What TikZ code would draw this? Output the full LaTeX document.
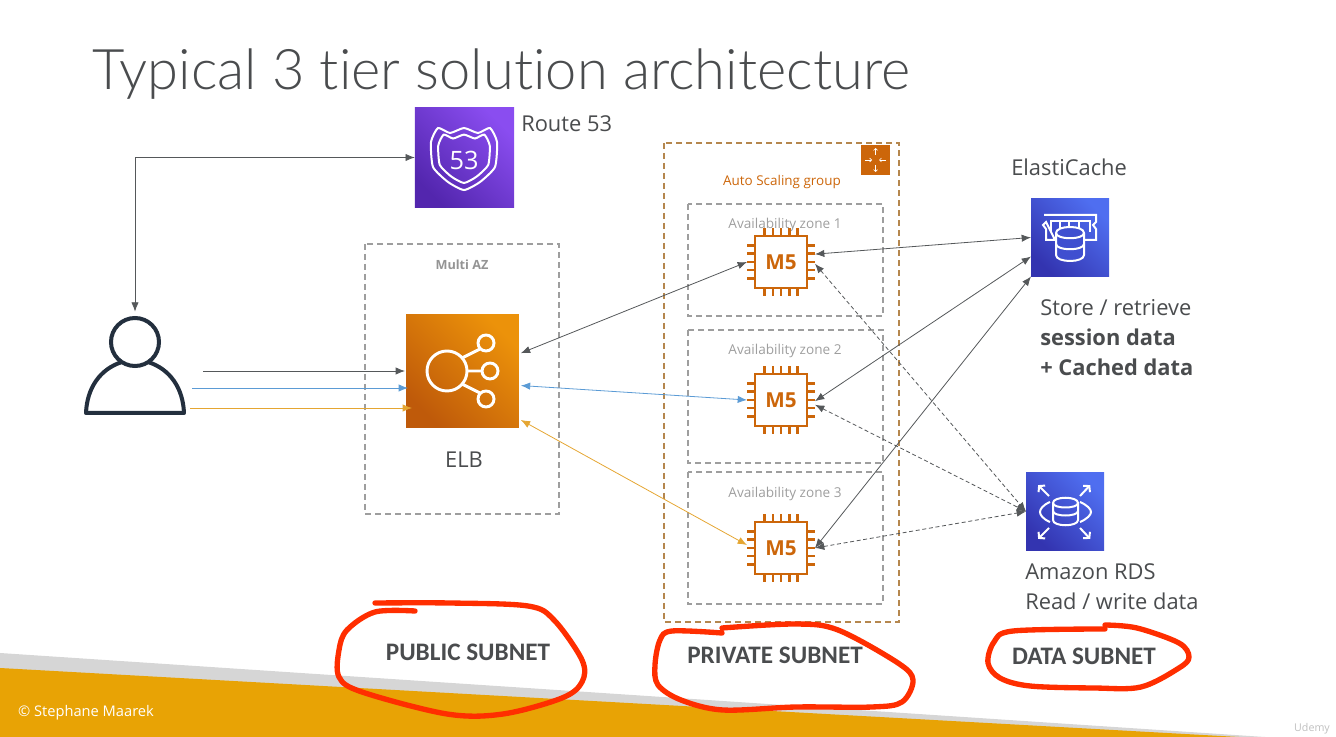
\documentclass[tikz,border=0pt]{standalone}
\usepackage{fontspec}
\setmainfont{Open Sans}
\newfontfamily\titlefont[Ligatures=NoCommon]{Lato Light}
\newfontfamily\capfont{Carlito}
\usepackage{xcolor}
\usetikzlibrary{shapes,arrows.meta,calc}
\definecolor{inktext}{HTML}{4A4C4E}
\definecolor{inkline}{HTML}{55585A}
\definecolor{inkuser}{HTML}{232F3E}
\definecolor{awsorange}{HTML}{CC660A}
\definecolor{awsamber}{HTML}{EC920A}
\definecolor{awsdeep}{HTML}{BF5A0A}
\definecolor{scaledash}{HTML}{B5874E}
\definecolor{linkblue}{HTML}{5B9BD5}
\definecolor{linkyellow}{HTML}{E5A632}
\definecolor{markerred}{HTML}{FF2E00}
\definecolor{footgold}{HTML}{E8A305}
\definecolor{footgrey}{HTML}{D6D6D6}
\definecolor{purplelow}{HTML}{5326AE}
\definecolor{purplehigh}{HTML}{8A4DF0}
\definecolor{bluelow}{HTML}{3334B0}
\definecolor{bluehigh}{HTML}{4F6EF0}
\definecolor{bluemid}{HTML}{3F4FD0}
\tikzstyle{service} = [rectangle, inner sep=0pt, outer sep=0pt]
\tikzstyle{purplebox} = [service, bottom color=purplelow, top color=purplehigh, shading angle=-45, minimum size=74.5pt]
\tikzstyle{bluebox} = [service, bottom color=bluelow, top color=bluehigh, shading angle=-45, minimum size=58.5pt]
\tikzstyle{orangebox} = [service, bottom color=awsdeep, top color=awsamber, shading angle=-45, minimum size=84.5pt, outer sep=1.5pt]
\tikzstyle{chipbody} = [rectangle, draw=awsorange, line width=2.2pt, fill=white, minimum size=39pt, inner sep=0pt, outer sep=6pt, text=awsorange, font=\fontsize{15.5}{20}\selectfont\bfseries]
\tikzstyle{chippin} = [draw=awsorange, line width=1.8pt]
\tikzstyle{zonebox} = [draw=black!38, line width=0.9pt, dash pattern=on 4.5pt off 3pt]
\tikzstyle{scalebox} = [draw=scaledash, line width=1pt, dash pattern=on 4.5pt off 3pt]
\tikzstyle{zonelabel} = [text=black!38, font=\fontsize{10.2}{12}\selectfont]
\tikzstyle{label} = [text=inktext, font=\fontsize{16.4}{22.5}\selectfont, align=left, inner sep=0pt]
\tikzstyle{subnet} = [text=inktext, font=\capfont\fontsize{18.9}{20}\selectfont\bfseries, inner sep=0pt]
\tikzstyle{pijl} = [draw=inkline, line width=0.6pt, <->]
\tikzstyle{pijlend} = [draw, line width=0.6pt, ->]
\tikzstyle{icon} = [draw=white, line width=1.5pt]
\tikzstyle{scalearrow} = [draw=white, line width=0.5pt, -{Straight Barb[length=1.5pt,width=3pt]}]
\tikzstyle{marker} = [draw=markerred, line width=4pt, line cap=round, line join=round]
\tikzset{>={Latex[length=7pt,width=5.5pt]}}

\begin{document}
\begin{tikzpicture}[x=0.75pt, y=-0.75pt]
	\useasboundingbox (0,0) rectangle (1336,737);
	% footer
	\fill [footgrey] (0,653) -- (1265,737) -- (0,737) -- cycle;
	\fill [footgold] (0,668) -- (1239,737) -- (0,737) -- cycle;
	\node [text=white, font=\fontsize{11}{12}\selectfont] (copyright) at (86,713) {© Stephane Maarek};
	\node [text=black!25, font=\fontsize{8}{10}\selectfont] (udemy) at (1312,729) {Udemy};
	
	\node [text=inktext, font=\titlefont\fontsize{42}{56}\selectfont, anchor=west, inner sep=0pt] (title) at (92,74) {Typical 3 tier solution architecture};
	
	% boxes
	\draw [zonebox] (365,244) rectangle (559,514);
	\draw [scalebox] (664,143) rectangle (899,622);
	\draw [zonebox] (688,204) rectangle (883,316);
	\draw [zonebox] (688,330) rectangle (883,463);
	\draw [zonebox] (688,472) rectangle (883,604);
	\node [text=black!42, font=\fontsize{9.5}{12}\selectfont\bfseries] (multiaz) at (462,265) {Multi AZ};
	\node [text=awsorange, font=\fontsize{10.1}{12}\selectfont] (scalelabel) at (782,182) {Auto Scaling group};
	\node [zonelabel] (zoneonelabel) at (785,225) {Availability zone 1};
	\node [zonelabel] (zonetwolabel) at (785,351) {Availability zone 2};
	\node [zonelabel] (zonethreelabel) at (785,494) {Availability zone 3};
	
	% services
	\node [purplebox] (route) at (464.5,157.5) {};
	\node [orangebox] (elb) at (462.5,371) {};
	\node [bluebox] (cache) at (1070,237.5) {};
	\node [bluebox] (rds) at (1065,511.5) {};
	\node [rectangle, fill=awsorange, minimum size=22pt, inner sep=0pt] (scaleicon) at (875.5,160) {};
	\node [minimum width=75pt, minimum height=77pt, inner sep=0pt, outer sep=0pt] (user) at (135,363) {};
	
	\node [chipbody] (chipone) at (781,262) {M5};
	\node [chipbody] (chiptwo) at (781,400) {M5};
	\node [chipbody] (chipthree) at (781,548) {M5};
	\foreach \c in {chipone,chiptwo,chipthree}{
		\foreach \p in {-2,...,2}{
			\path [chippin] ([shift={(\p*8.3,-27)}]\c.center) -- ++(0,-7);
			\path [chippin] ([shift={(\p*8.3,27)}]\c.center) -- ++(0,7);
			\path [chippin] ([shift={(-27,\p*8.3)}]\c.center) -- ++(-7,0);
			\path [chippin] ([shift={(27,\p*8.3)}]\c.center) -- ++(7,0);
		}
	}
	
	% user
	\draw [draw=inkuser, line width=3pt] (135,342) circle (24);
	\draw [draw=inkuser, line width=3pt, line join=round] (122,362) .. controls (100,369) and (87,388) .. (86,413) -- (184,413) .. controls (183,388) and (170,369) .. (148,362);
	
	% route 53 icon
	\foreach \s in {1,0.78}{
		\begin{scope}[shift={(464,158)}, scale=\s]
			\draw [icon] plot [smooth cycle, tension=0.35] coordinates {(-26,-30) (-14,-25) (0,-30) (14,-25) (26,-30) (33,-16) (31,9) (16,24) (0,32) (-16,24) (-31,9) (-33,-16)};
		\end{scope}
	}
	\node [text=white, font=\fontsize{19}{22}\selectfont, inner sep=0pt] (routetext) at (464,160) {53};
	
	% elb icon
	\draw [icon, line width=2.2pt] (447,371) circle (20) (486,343) circle (8) (490,371) circle (8) (486,399) circle (8);
	\draw [icon, line width=2.2pt] (462,358) -- (480,349) (467,371) -- (482,371) (462,384) -- (480,393);
	
	% elasticache icon
	\draw [icon] (1044,215) -- (1096,215) -- (1096,222) -- (1093,225) -- (1096,229) -- (1096,240) -- (1085,240) (1055,240) -- (1046,240) -- (1046,229) -- (1043,225) -- (1046,222) -- cycle;
	\draw [icon] (1051,232) -- (1051,221) -- (1060,221) -- (1060,232) (1060,221) -- (1069,221) -- (1069,228) (1069,221) -- (1079,221) -- (1079,228) (1079,221) -- (1090,221) -- (1090,232);
	\draw [icon, fill=bluemid] (1056,233) -- (1056,255) .. controls (1056,263) and (1084,263) .. (1084,255) -- (1084,233) .. controls (1084,225) and (1056,225) .. (1056,233) -- cycle;
	\draw [icon] (1056,233) .. controls (1056,240) and (1084,240) .. (1084,233);
	\draw [icon] (1056,244) .. controls (1056,251) and (1084,251) .. (1084,244);
	
	% rds icon
	\draw [icon] (1053,503) -- (1053,520) .. controls (1053,527) and (1078,527) .. (1078,520) -- (1078,503) .. controls (1078,496) and (1053,496) .. (1053,503) -- cycle;
	\draw [icon] (1053,503) .. controls (1053,509) and (1078,509) .. (1078,503);
	\draw [icon] (1053,511) .. controls (1053,517) and (1078,517) .. (1078,511);
	\draw [icon] (1050,502) .. controls (1043,505) and (1040,509) .. (1040,512) .. controls (1040,515) and (1043,519) .. (1050,522);
	\draw [icon] (1080,502) .. controls (1087,505) and (1091,509) .. (1091,512) .. controls (1091,515) and (1087,519) .. (1080,522);
	\foreach \a/\b in {1049/496,1080/496,1049/528,1080/528}{
		\coordinate (tail) at (\a,\b);
		\coordinate (mid) at (1065,512);
		\draw [icon, -{Straight Barb[length=3pt,width=7pt]}] (tail) -- ($(tail)!-0.68!(mid)$);
	}
	
	% scaling icon
	\draw [scalearrow] (875.5,155) -- (875.5,148);
	\draw [scalearrow] (875.5,165) -- (875.5,172);
	\draw [scalearrow] (865,160) -- (872,160);
	\draw [scalearrow] (886,160) -- (879,160);
	
	% labels
	\node [label, anchor=west] (routelabel) at (521,124) {Route 53};
	\node [label] (elblabel) at (464,460) {ELB};
	\node [label, anchor=west] (cachelabel) at (1011,167) {ElastiCache};
	\node [label, anchor=north west] (cachetext) at (1040,299) {Store / retrieve\\\textbf{session data}\\\textbf{+ Cached data}};
	\node [label, anchor=north west] (rdstext) at (1025,563) {Amazon RDS\\Read / write data};
	
	% connectors
	\coordinate (userdark) at (203,371);
	\coordinate (userblue) at (192,388);
	\coordinate (useryellow) at (190,408);
	\coordinate (elbdark) at (405,371);
	\coordinate (elbblue) at (408,388);
	\coordinate (elbyellow) at (412,408);
	\path [pijl] (user.north) |- (route.west);
	\path [pijlend, draw=inkline] (userdark)--(elbdark);
	\path [pijlend, draw=linkblue] (userblue)--(elbblue);
	\path [pijlend, draw=linkyellow] (useryellow)--(elbyellow);
	
	\path [pijl] (elb.17)--(chipone.west);
	\path [pijl, draw=linkblue] (elb.-14)--(chiptwo.west);
	\path [pijl, draw=linkyellow] (elb.-40)--(chipthree.175);
	
	\path [pijl] (chipone.13)--(cache.west);
	\path [pijl] (chiptwo.-2)--(cache.206);
	\path [pijl] (chipthree.east)--(cache.south west);
	
	\path [pijl, densely dashed] (chipone.-3)--(rds.west);
	\path [pijl, densely dashed] (chiptwo.-8)--(rds.west);
	\path [pijl, densely dashed] (chipthree.east)--(rds.west);
	
	% subnets
	\node [subnet] (public) at (468,652) {PUBLIC SUBNET};
	\node [subnet] (private) at (775,655) {PRIVATE SUBNET};
	\node [subnet] (data) at (1084,656) {DATA SUBNET};
	
	\draw [marker] plot [smooth, tension=0.55] coordinates {(375,603) (450,603) (528,606) (554,620) (582,660) (582,682) (562,698) (503,714) (447,714) (362,692) (339,677) (339,650) (347,630) (375,612) (415,611)};
	\draw [marker] plot [smooth, tension=0.55] coordinates {(722,628) (796,624) (838,630) (898,663) (913,680) (902,702) (872,707) (796,707) (723,710) (681,700) (658,685) (655,665) (660,640) (672,631) (722,633)};
	\draw [marker] plot [smooth, tension=0.55] coordinates {(1105,625) (1137,628) (1179,643) (1189,657) (1179,668) (1141,687) (1094,688) (1030,686) (1000,678) (988,663) (994,642) (1013,631) (1105,629)};
\end{tikzpicture}
\end{document}
